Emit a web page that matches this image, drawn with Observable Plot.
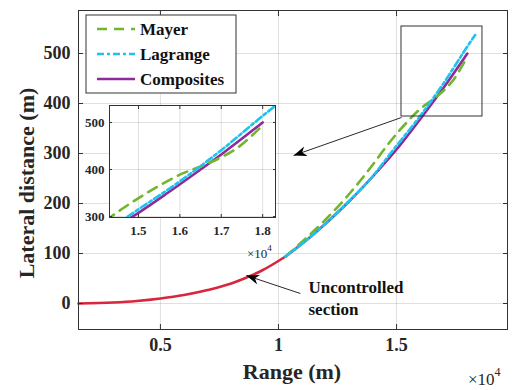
<!DOCTYPE html>
<html><head><meta charset="utf-8">
<script src="https://cdn.jsdelivr.net/npm/d3@7"></script>
<script src="https://cdn.jsdelivr.net/npm/@observablehq/plot@0.6"></script>
<style>
body{margin:0;background:#fff;}
#wrap{position:relative;width:512px;height:390px;font-family:'Liberation Serif',serif;}
#wrap svg text{font-family:'Liberation Serif',serif !important;}
#inset{position:absolute;left:74px;top:103px;}
</style></head><body><div id="wrap"></div>
<script>
// ---- data ----
const seriesNames = ["Mayer", "Lagrange", "Composites"];
const seriesColors = ["#72b52e", "#1cc3ee", "#8e2b98"];
const seriesDash = ["10,7", "7,3,3,3", null];
const uncontrolledColor = "#d7263d";

const uncontrolledX = [1530, 3000, 4000, 5000, 6000, 7000, 8000, 8600, 9300, 10300];
const uncontrolledY = [0, 2, 5, 10, 17, 27, 40, 51, 66, 94];
const mayerX = [10300, 11060, 12000, 13050, 14000, 14600, 15430, 16000, 16540, 17000, 17420, 17920];
const mayerY = [94, 126, 168, 222, 278, 316, 362, 389, 408, 426, 448, 487];
const lagrangeX = [10300, 11500, 12900, 14000, 14740, 16000, 17000, 18000, 18330];
const lagrangeY = [94, 139, 201, 255, 300, 375, 441, 514, 537];
const compositesX = [10300, 11500, 12900, 14300, 15000, 15700, 16500, 17000, 18000];
const compositesY = [94, 139, 200, 270, 308, 350, 400, 432, 500];

const xTicks = [5000, 10000, 15000];
const xTickLabels = ["0.5", "1", "1.5"];
const yTicks = [0, 100, 200, 300, 400, 500];
const insetXTicks = [15000, 16000, 17000, 18000];
const insetXTickLabels = ["1.5", "1.6", "1.7", "1.8"];
const insetYTicks = [300, 400, 500];

const zoomBoxX = [15210, 18640];
const zoomBoxY = [374, 554];
const arrowFromX = [15210, 10930];
const arrowFromY = [372, 20];
const arrowToX = [10640, 8640];
const arrowToY = [296, 56];
const annotX = [11270];
const annotY = [14];
const annotText = ["Uncontrolled\nsection"];

const xLabel = "Range (m)";
const yLabel = "Lateral distance (m)";

// ---- build tables ----
const toRows = (xs, ys) => xs.map((x, i) => ({x, y: ys[i]}));
const uncontrolled = toRows(uncontrolledX, uncontrolledY);
const seriesRows = [toRows(mayerX, mayerY), toRows(lagrangeX, lagrangeY), toRows(compositesX, compositesY)];
const zoomBox = [{x1: zoomBoxX[0], x2: zoomBoxX[1], y1: zoomBoxY[0], y2: zoomBoxY[1]}];
const arrows = arrowFromX.map((x, i) => ({x1: x, y1: arrowFromY[i], x2: arrowToX[i], y2: arrowToY[i]}));
const annots = annotX.map((x, i) => ({x, y: annotY[i], text: annotText[i]}));

const font = "'Liberation Serif', serif";
const frameColor = "#333";
const gridOpts = {stroke: "#000", strokeOpacity: 0.12};

function seriesMarks(clip, w) {
  const order = [2, 0, 1];
  return order.map(k => Plot.line(seriesRows[k], {
    x: "x", y: "y", stroke: seriesColors[k], strokeWidth: w,
    strokeDasharray: seriesDash[k], curve: "monotone-x", clip
  }));
}

const main = Plot.plot({
  width: 512, height: 390,
  marginLeft: 78, marginRight: 5, marginTop: 10, marginBottom: 61,
  x: {domain: [1530, 19700]},
  y: {domain: [-52, 586]},
  style: {fontFamily: font, fontSize: "18px", fontWeight: "bold", color: "#262626", background: "white", overflow: "visible"},
  marks: [
    Plot.gridX(xTicks, gridOpts),
    Plot.gridY(yTicks, gridOpts),
    Plot.line(uncontrolled, {x: "x", y: "y", stroke: uncontrolledColor, strokeWidth: 2.6, curve: "monotone-x"}),
    ...seriesMarks(false, 2.6),
    Plot.rect(zoomBox, {x1: "x1", x2: "x2", y1: "y1", y2: "y2", fill: "none", stroke: frameColor, strokeWidth: 1}),
    Plot.link(arrows, {x1: "x1", y1: "y1", x2: "x2", y2: "y2", stroke: "#111", strokeWidth: 0.9}),
    Plot.text(annots, {x: "x", y: "y", text: "text", textAnchor: "start", lineAnchor: "middle", lineHeight: 1.3, fontSize: 17, fill: "#111"}),
    Plot.frame({stroke: frameColor}),
    Plot.axisX({anchor: "bottom", ticks: xTicks, tickSize: 0, tickPadding: 9, tickFormat: d => xTickLabels[xTicks.indexOf(d)], label: null}),
    Plot.axisX({anchor: "bottom", ticks: xTicks, tickSize: -5, tickFormat: () => "", label: null, stroke: frameColor}),
    Plot.axisX({anchor: "top", ticks: xTicks, tickSize: -5, tickFormat: () => "", label: null, stroke: frameColor}),
    Plot.axisY({anchor: "left", ticks: yTicks, tickSize: 0, tickPadding: 8, label: null}),
    Plot.axisY({anchor: "left", ticks: yTicks, tickSize: -5, tickFormat: () => "", label: null, stroke: frameColor}),
    Plot.axisY({anchor: "right", ticks: yTicks, tickSize: -5, tickFormat: () => "", label: null, stroke: frameColor})
  ]
});

const svg = d3.select(main);
// arrowheads
const defs = svg.append("defs");
defs.append("marker").attr("id", "ahead").attr("viewBox", "0 0 13 10")
  .attr("refX", 13).attr("refY", 5).attr("markerWidth", 13).attr("markerHeight", 10)
  .attr("markerUnits", "userSpaceOnUse").attr("orient", "auto")
  .append("path").attr("d", "M0,0 L13,5 L0,10 L4,5 Z").attr("fill", "#000");
svg.selectAll('g[aria-label="link"] path').attr("marker-end", "url(#ahead)");

// axis titles
svg.append("text").attr("x", 292).attr("y", 379).attr("text-anchor", "middle")
  .attr("font-size", 22).attr("font-weight", "bold").attr("fill", "#262626").text(xLabel);
svg.append("text").attr("transform", "translate(34,183) rotate(-90)").attr("text-anchor", "middle")
  .attr("font-size", 22).attr("font-weight", "bold").attr("fill", "#262626").text(yLabel);
const ex = svg.append("text").attr("x", 468).attr("y", 385).attr("text-anchor", "start")
  .attr("font-size", 17).attr("font-weight", "normal").attr("fill", "#262626");
ex.append("tspan").text("×10");
ex.append("tspan").attr("dy", -9).attr("font-size", 12).text("4");

// legend
const lg = svg.append("g");
lg.append("rect").attr("x", 86).attr("y", 15).attr("width", 150).attr("height", 78)
  .attr("fill", "white").attr("stroke", frameColor);
seriesNames.forEach((n, i) => {
  const cy = 29 + i * 25;
  lg.append("line").attr("x1", 97).attr("x2", 135).attr("y1", cy).attr("y2", cy)
    .attr("stroke", seriesColors[i]).attr("stroke-width", 2.6)
    .attr("stroke-dasharray", seriesDash[i] || null);
  lg.append("text").attr("x", 140).attr("y", cy + 6).attr("text-anchor", "start").attr("font-size", 17)
    .attr("font-weight", "bold").attr("fill", "#111").text(n);
});

document.getElementById("wrap").appendChild(main);

// ---- inset ----
const inset = Plot.plot({
  width: 206, height: 157,
  marginLeft: 35, marginRight: 5, marginTop: 2, marginBottom: 43,
  x: {domain: [14300, 18310]},
  y: {domain: [298, 536]},
  style: {fontFamily: font, fontSize: "13px", fontWeight: "bold", color: "#262626", background: "transparent", overflow: "visible"},
  marks: [
    Plot.frame({fill: "white"}),
    Plot.gridX(insetXTicks, gridOpts),
    Plot.gridY(insetYTicks, gridOpts),
    ...seriesMarks(true, 2.6),
    Plot.frame({stroke: frameColor}),
    Plot.axisX({anchor: "bottom", ticks: insetXTicks, tickSize: 0, tickPadding: 8, tickFormat: d => insetXTickLabels[insetXTicks.indexOf(d)], label: null}),
    Plot.axisX({anchor: "bottom", ticks: insetXTicks, tickSize: -3, tickFormat: () => "", label: null, stroke: frameColor}),
    Plot.axisX({anchor: "top", ticks: insetXTicks, tickSize: -3, tickFormat: () => "", label: null, stroke: frameColor}),
    Plot.axisY({anchor: "left", ticks: insetYTicks, tickSize: 0, tickPadding: 5, label: null}),
    Plot.axisY({anchor: "left", ticks: insetYTicks, tickSize: -3, tickFormat: () => "", label: null, stroke: frameColor}),
    Plot.axisY({anchor: "right", ticks: insetYTicks, tickSize: -3, tickFormat: () => "", label: null, stroke: frameColor})
  ]
});
const isvg = d3.select(inset);
const iex = isvg.append("text").attr("x", 173).attr("y", 155).attr("text-anchor", "start")
  .attr("font-size", 13).attr("font-weight", "normal").attr("fill", "#262626");
iex.append("tspan").text("×10");
iex.append("tspan").attr("dy", -7).attr("font-size", 9).text("4");
inset.id = "inset";
document.getElementById("wrap").appendChild(inset);
</script></body></html>
